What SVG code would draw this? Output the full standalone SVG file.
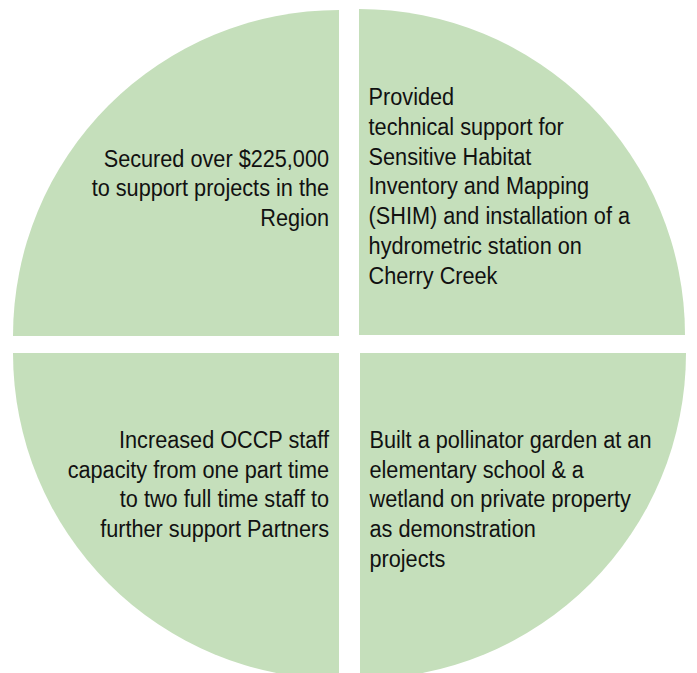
<svg xmlns="http://www.w3.org/2000/svg" width="697" height="673" viewBox="0 0 697 673">
<style>
.q{fill:#C5DFBB;stroke:none}
.t{font-family:"Liberation Sans",Arial,sans-serif;font-size:24.5px;fill:#111}
.r{text-anchor:end}
.l{text-anchor:start}
</style>
<rect width="697" height="673" fill="#fff"/>
<g id="q-top-left">
<path class="q" d="M339,336 L13,336 A326,326 0 0 1 339,10 Z"/>
<g transform="scale(0.885,1)">
<text class="t r" x="371.8" y="167">Secured over $225,000</text>
<text class="t r" x="371.8" y="196.5">to support projects in the</text>
<text class="t r" x="371.8" y="226">Region</text>
</g>
</g>
<g id="q-top-right">
<path class="q" d="M359,335 L359,9 A326,326 0 0 1 685,335 Z"/>
<g transform="scale(0.885,1)">
<text class="t l" x="416.5" y="105">Provided</text>
<text class="t l" x="416.5" y="134.8">technical support for</text>
<text class="t l" x="416.5" y="164.6">Sensitive Habitat</text>
<text class="t l" x="416.5" y="194.4">Inventory and Mapping</text>
<text class="t l" x="416.5" y="224.2">(SHIM) and installation of a</text>
<text class="t l" x="416.5" y="254">hydrometric station on</text>
<text class="t l" x="416.5" y="283.8">Cherry Creek</text>
</g>
</g>
<g id="q-bottom-left">
<path class="q" d="M339,353 L339,679 A326,326 0 0 1 13,353 Z"/>
<g transform="scale(0.885,1)">
<text class="t r" x="371.8" y="448">Increased OCCP staff</text>
<text class="t r" x="371.8" y="478">capacity from one part time</text>
<text class="t r" x="371.8" y="507.5">to two full time staff to</text>
<text class="t r" x="371.8" y="537">further support Partners</text>
</g>
</g>
<g id="q-bottom-right">
<path class="q" d="M360,353 L686,353 A326,326 0 0 1 360,679 Z"/>
<g transform="scale(0.885,1)">
<text class="t l" x="417.5" y="448">Built a pollinator garden at an</text>
<text class="t l" x="417.5" y="478">elementary school &amp; a</text>
<text class="t l" x="417.5" y="507.5">wetland on private property</text>
<text class="t l" x="417.5" y="537.5">as demonstration</text>
<text class="t l" x="417.5" y="567.5">projects</text>
</g>
</g>
<g id="connectors"/>
</svg>
